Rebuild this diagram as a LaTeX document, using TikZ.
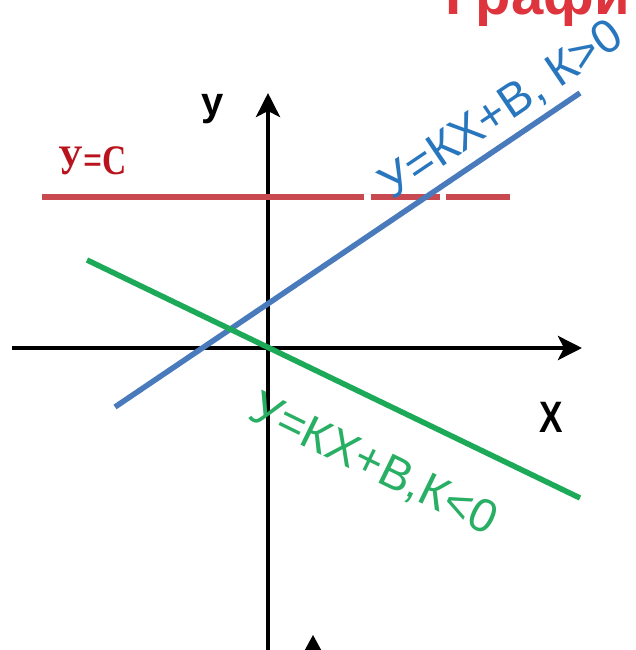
\documentclass[tikz,border=0pt]{standalone}
\usepackage{fontspec}
\setmainfont{Liberation Sans}
\newfontfamily\serifbold{Liberation Serif}
\usetikzlibrary{arrows.meta}
\definecolor{blueline}{RGB}{72,122,188}
\definecolor{bluetxt}{RGB}{40,118,190}
\definecolor{greenline}{RGB}{28,170,88}
\definecolor{greentxt}{RGB}{40,175,100}
\definecolor{redline}{RGB}{200,74,80}
\definecolor{redlabel}{RGB}{185,20,30}
\definecolor{titlered}{RGB}{222,52,62}
\begin{document}
\begin{tikzpicture}[x=1pt,y=-1pt,
  axisline/.style={line width=4.5pt, black, -{Stealth[length=24pt,width=24pt,inset=6pt]}},
  graphline/.style={line width=5.5pt},
  slopelabel/.style={inner sep=0pt, font=\fontsize{47}{52}\selectfont},
  boldlabel/.style={inner sep=0pt, font=\fontsize{40}{44}\selectfont\bfseries},
]
\useasboundingbox (0,0) rectangle (635,650);
\clip (0,0) rectangle (635,650);
% axes
\coordinate (xs) at (12,348);
\coordinate (xe) at (582,348);
\coordinate (ys) at (268,656);
\coordinate (ye) at (268,93);
\draw[axisline] (xs) -- (xe);
\draw[axisline] (ys) -- (ye);
% partial arrowhead at bottom
\coordinate (bt) at (313,635);
\coordinate (bl) at (301,657);
\coordinate (br) at (325,657);
\fill[black] (bt) -- (bl) -- (br) -- cycle;
% y = c
\coordinate (r1) at (42,197);
\coordinate (r2) at (364,197);
\coordinate (r3) at (371,197);
\coordinate (r4) at (440,197);
\coordinate (r5) at (446,197);
\coordinate (r6) at (510,197);
\draw[graphline, redline] (r1) -- (r2) (r3) -- (r4) (r5) -- (r6);
% k > 0
\coordinate (b1) at (115,407);
\coordinate (b2) at (580,93);
\draw[graphline, blueline] (b1) -- (b2);
% k < 0
\coordinate (g1) at (87,260);
\coordinate (g2) at (580,498);
\draw[graphline, greenline] (g1) -- (g2);
% labels
\node[slopelabel, text=bluetxt, rotate=34] (lb) at (502,111) {У=КХ+В, К>0};
\node[slopelabel, text=greentxt, rotate=-26] (lg) at (373,465) {У=КХ+В,К<0};
\node[inner sep=0pt, text=redlabel, xscale=0.8, font=\fontsize{42}{44}\selectfont\serifbold\bfseries] (lc) at (93,161) {У=С};
\node[boldlabel] (ly) at (213,109) {у};
\node[boldlabel, xscale=0.8, font=\fontsize{44}{46}\selectfont\bfseries] (lx) at (551,417) {Х};
\node[inner sep=0pt, anchor=base west, text=titlered, font=\fontsize{58}{60}\selectfont\bfseries] (tt) at (445,15) {Графи};
\end{tikzpicture}
\end{document}
